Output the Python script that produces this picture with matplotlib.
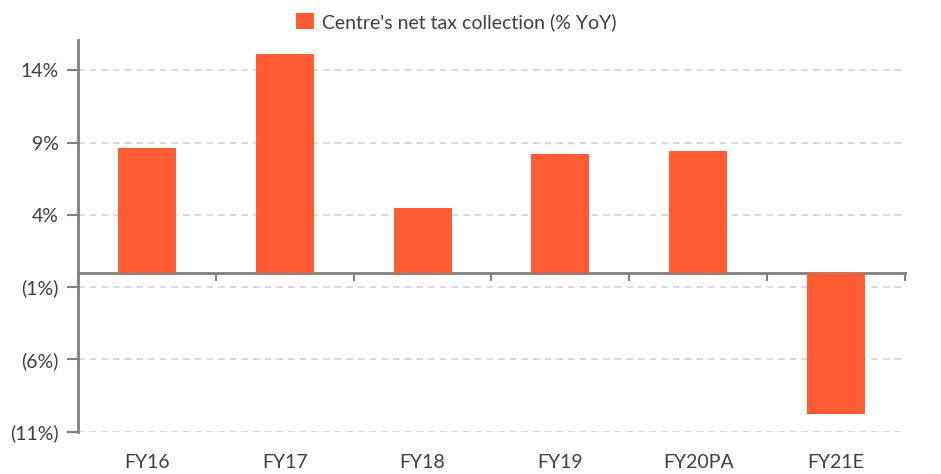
import matplotlib
matplotlib.use("Agg")
import matplotlib.pyplot as plt
import numpy as np

categories = ["FY16", "FY17", "FY18", "FY19", "FY20PA", "FY21E"]
values = [8.6, 15.1, 4.5, 8.2, 8.4, -9.8]
yticks = [14, 9, 4, -1, -6, -11]
ytick_labels = ["14%", "9%", "4%", "(1%)", "(6%)", "(11%)"]
series_name = "Centre's net tax collection (% YoY)"

plt.rcParams['font.family'] = ['Lato', 'DejaVu Sans']
bar_color = "#FF5C35"
axis_gray = "#808080"
text_gray = "#3f3f3f"

fig = plt.figure(figsize=(9.41, 4.74), dpi=100)
ax = fig.add_axes([78/941, 1 - 431.7/474, (905-78)/941, (431.7-40)/474])

x = np.arange(len(categories))
ax.bar(x, values, width=0.42, color=bar_color, label=series_name, zorder=3)

ylo, yhi = -11, 16.1
ax.set_ylim(ylo, yhi)
ax.set_xlim(-0.5, len(categories) - 0.5)

ax.set_yticks(yticks)
ax.set_yticklabels(ytick_labels, fontsize=14, color=text_gray)
ax.tick_params(axis='y', length=8, width=1.5, color=axis_gray, pad=6)
ax.yaxis.grid(True, linestyle=(0, (4, 3)), color="#d4d4d4", linewidth=1.2, zorder=0)

ax.set_xticks(x)
ax.set_xticklabels(categories, fontsize=14, color=text_gray)
ax.tick_params(axis='x', length=0, pad=16)

for s in ["top", "right", "bottom"]:
    ax.spines[s].set_visible(False)
ax.spines["left"].set_color(axis_gray)
ax.spines["left"].set_linewidth(2)

# zero axis with category boundary ticks
zero_loc = (0 - ylo) / (yhi - ylo)
sec = ax.secondary_xaxis(zero_loc)
sec.set_xticks(np.arange(len(categories) + 1) - 0.5)
sec.set_xticklabels([])
sec.tick_params(axis='x', direction='out', length=6, width=1.5, color=axis_gray)
for s in ["top", "right", "left"]:
    sec.spines[s].set_visible(False)
sec.spines["bottom"].set_color(axis_gray)
sec.spines["bottom"].set_linewidth(2)
sec.spines["bottom"].set_zorder(4)

leg = fig.legend(loc="upper center", bbox_to_anchor=(0.485, 1.01), frameon=False,
                 fontsize=14, handlelength=0.9, handleheight=0.9, handletextpad=0.4)
for t in leg.get_texts():
    t.set_color(text_gray)

fig.savefig("out.png", dpi=100)
